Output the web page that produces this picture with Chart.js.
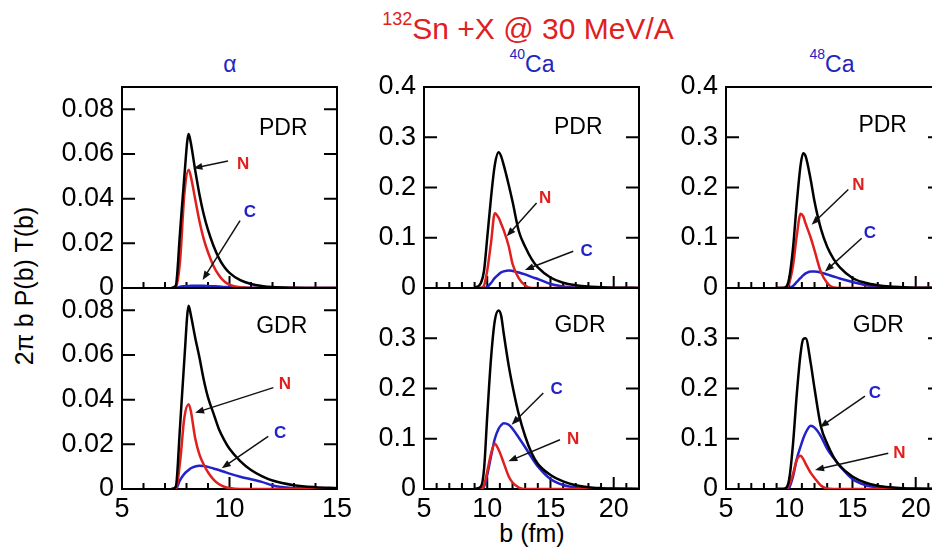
<!DOCTYPE html>
<html>
<head>
<meta charset="utf-8">
<title>132Sn + X @ 30 MeV/A</title>
<script src="https://cdn.jsdelivr.net/npm/chart.js@4/dist/chart.umd.min.js"></script>
<style>
  html, body { margin: 0; padding: 0; background: #fff; }
  body { position: relative; width: 932px; height: 558px; overflow: hidden;
         font-family: "Liberation Sans", Arial, Helvetica, sans-serif; }
  canvas { position: absolute; left: 0; top: 0; }
  .txt { position: absolute; line-height: 1; white-space: nowrap; transform: translateX(-50%); }
  .txt sup { position: relative; vertical-align: baseline; }
  .red { color: #e0201f; }
  .blue { color: #2424c0; }
  .ytitle { position: absolute; line-height: 1; white-space: nowrap; color: #000;
            transform: translate(-50%, -50%) rotate(-90deg); }
</style>
</head>
<body>

<div class="txt red" style="left:528px; top:14px; font-size:30px"><sup style="font-size:18px; top:-14px">132</sup>Sn +X @ 30 MeV/A</div>
<div class="txt blue" style="left:230px; top:53px; font-size:23px">α</div>
<div class="txt blue" style="left:532px; top:53px; font-size:23px"><sup style="font-size:14px; top:-13px">40</sup>Ca</div>
<div class="txt blue" style="left:832px; top:53px; font-size:23px"><sup style="font-size:14px; top:-13px">48</sup>Ca</div>
<div class="txt" style="left:532px; top:521px; font-size:25px">b (fm)</div>
<div class="ytitle" style="left:24px; top:286px; font-size:25px">2π b P(b) T(b)</div>

<script>
// impact parameter grids (fm)
const bAlpha = [7.3, 7.5, 7.7, 7.9, 8.1, 8.2, 8.4, 8.6, 8.8, 9.0, 9.25, 9.5, 9.75, 10, 10.5, 11, 11.5, 12, 13, 14, 15];
const bCa = [9, 9.5, 9.75, 10, 10.3, 10.6, 10.9, 11.1, 11.3, 11.7, 12, 12.5, 13, 13.5, 14, 15, 16, 17, 18, 19, 20, 22];

// alpha target
const alphaPdrTotal = [0, 0.001, 0.025, 0.05, 0.069, 0.065, 0.053, 0.042, 0.033, 0.026, 0.019, 0.0135, 0.0095, 0.0068, 0.0035, 0.0018, 0.0009, 0.0004, 0.0001, 0, 0];
const alphaPdrN = [0, 0, 0.012, 0.042, 0.053, 0.05, 0.04, 0.03, 0.022, 0.016, 0.01, 0.0058, 0.003, 0.0015, 0.0003, 0, 0, 0, 0, 0, 0];
const alphaPdrC = [0, 0, 0.0006, 0.0008, 0.0009, 0.001, 0.001, 0.001, 0.001, 0.0009, 0.0008, 0.0007, 0.0005, 0.0004, 0.0002, 0.0001, 0, 0, 0, 0, 0];
const alphaGdrTotal = [0, 0.001, 0.028, 0.058, 0.082, 0.078, 0.068, 0.059, 0.049, 0.041, 0.034, 0.027, 0.022, 0.018, 0.0125, 0.0085, 0.0058, 0.0038, 0.0017, 0.0008, 0.0004];
const alphaGdrN = [0, 0, 0.012, 0.032, 0.038, 0.035, 0.023, 0.0155, 0.011, 0.0075, 0.0043, 0.0022, 0.001, 0.0004, 0, 0, 0, 0, 0, 0, 0];
const alphaGdrC = [0, 0, 0.004, 0.0068, 0.0085, 0.0093, 0.0101, 0.0104, 0.0103, 0.0099, 0.0092, 0.0085, 0.0077, 0.0069, 0.0055, 0.0044, 0.0032, 0.0016, 0.0004, 0.0001, 0];

// 40Ca target
const ca40PdrTotal = [0, 0.01, 0.035, 0.1, 0.18, 0.245, 0.27, 0.262, 0.245, 0.205, 0.172, 0.113, 0.082, 0.058, 0.041, 0.021, 0.0105, 0.0055, 0.0028, 0.0014, 0.0007, 0.0002];
const ca40PdrN = [0, 0, 0.005, 0.035, 0.09, 0.149, 0.14, 0.128, 0.115, 0.083, 0.048, 0.019, 0.005, 0, 0, 0, 0, 0, 0, 0, 0, 0];
const ca40PdrC = [0, 0, 0, 0.002, 0.01, 0.02, 0.027, 0.031, 0.033, 0.035, 0.034, 0.031, 0.027, 0.022, 0.018, 0.008, 0.003, 0.001, 0, 0, 0, 0];
const ca40GdrTotal = [0, 0.005, 0.04, 0.145, 0.26, 0.335, 0.355, 0.345, 0.31, 0.245, 0.205, 0.148, 0.105, 0.072, 0.05, 0.028, 0.015, 0.0075, 0.0035, 0.0017, 0.0008, 0.0002];
const ca40GdrN = [0, 0, 0.008, 0.035, 0.07, 0.09, 0.078, 0.066, 0.052, 0.025, 0.013, 0.003, 0, 0, 0, 0, 0, 0, 0, 0, 0, 0];
const ca40GdrC = [0, 0, 0.005, 0.028, 0.065, 0.1, 0.12, 0.127, 0.131, 0.128, 0.12, 0.102, 0.083, 0.063, 0.045, 0.02, 0.008, 0.003, 0.001, 0, 0, 0];

// 48Ca target
const ca48PdrTotal = [0, 0, 0.002, 0.02, 0.08, 0.17, 0.245, 0.268, 0.262, 0.215, 0.172, 0.118, 0.082, 0.058, 0.041, 0.02, 0.0105, 0.0055, 0.0028, 0.0014, 0.0007, 0.0002];
const ca48PdrN = [0, 0, 0, 0.01, 0.045, 0.105, 0.148, 0.143, 0.128, 0.1, 0.075, 0.032, 0.01, 0.001, 0, 0, 0, 0, 0, 0, 0, 0];
const ca48PdrC = [0, 0, 0, 0, 0.004, 0.012, 0.02, 0.025, 0.029, 0.033, 0.033, 0.031, 0.027, 0.023, 0.019, 0.012, 0.006, 0.002, 0.0005, 0, 0, 0];
const ca48GdrTotal = [0, 0, 0.002, 0.02, 0.09, 0.19, 0.27, 0.298, 0.3, 0.25, 0.2, 0.125, 0.09, 0.064, 0.046, 0.025, 0.013, 0.0065, 0.0033, 0.0016, 0.0008, 0.0002];
const ca48GdrN = [0, 0, 0, 0.008, 0.03, 0.058, 0.066, 0.06, 0.05, 0.032, 0.022, 0.007, 0.001, 0, 0, 0, 0, 0, 0, 0, 0, 0];
const ca48GdrC = [0, 0, 0, 0.003, 0.025, 0.06, 0.085, 0.1, 0.112, 0.126, 0.122, 0.105, 0.08, 0.062, 0.046, 0.02, 0.008, 0.003, 0.001, 0, 0, 0];

const PAGE_W = 980, PAGE_H = 558;
const Y_AXIS_W = 90, X_AXIS_H = 50;
const FONT = "'Liberation Sans', Arial, Helvetica, sans-serif";
const RED = '#e0201f', BLUE = '#2222c8', BLACK = '#000';

// plot rectangles of the 3x2 grid
const COLS = [{ left: 122, right: 337 }, { left: 424, right: 639 }, { left: 726, right: 941 }];
const ROWS = [{ top: 87, bottom: 288 }, { top: 288, bottom: 489 }];

const panels = [
  { col: 0, row: 0, b: bAlpha, total: alphaPdrTotal, n: alphaPdrN, c: alphaPdrC,
    xMax: 15, yMax: 0.09, yStep: 0.02, digits: 2, tag: 'PDR', tagAt: [12.5, 0.0715],
    notes: [
      { text: 'N', color: RED, at: [10.63, 0.0555], from: [9.93, 0.0569], to: [8.32, 0.0536] },
      { text: 'C', color: BLUE, at: [10.95, 0.0338], from: [10.49, 0.0302], to: [8.75, 0.0036] }
    ] },
  { col: 0, row: 1, b: bAlpha, total: alphaGdrTotal, n: alphaGdrN, c: alphaGdrC,
    xMax: 15, yMax: 0.09, yStep: 0.02, digits: 2, tag: 'GDR', tagAt: [12.43, 0.0725],
    notes: [
      { text: 'N', color: RED, at: [12.58, 0.0469], from: [12.04, 0.0454], to: [8.4, 0.0341] },
      { text: 'C', color: BLUE, at: [12.35, 0.0251], from: [11.8, 0.0236], to: [9.64, 0.0093] }
    ] },
  { col: 1, row: 0, b: bCa, total: ca40PdrTotal, n: ca40PdrN, c: ca40PdrC,
    xMax: 22, yMax: 0.4, yStep: 0.1, digits: 1, tag: 'PDR', tagAt: [17.2, 0.319],
    notes: [
      { text: 'N', color: RED, at: [14.57, 0.179], from: [13.9, 0.169], to: [11.54, 0.103] },
      { text: 'C', color: BLUE, at: [17.86, 0.073], from: [16.8, 0.073], to: [12.98, 0.036] }
    ] },
  { col: 1, row: 1, b: bCa, total: ca40GdrTotal, n: ca40GdrN, c: ca40GdrC,
    xMax: 22, yMax: 0.4, yStep: 0.1, digits: 1, tag: 'GDR', tagAt: [17.33, 0.325],
    notes: [
      { text: 'C', color: BLUE, at: [15.49, 0.198], from: [14.43, 0.191], to: [11.93, 0.128] },
      { text: 'N', color: RED, at: [16.8, 0.098], from: [15.75, 0.098], to: [11.67, 0.055] }
    ] },
  { col: 2, row: 0, b: bCa, total: ca48PdrTotal, n: ca48PdrN, c: ca48PdrC,
    xMax: 22, yMax: 0.4, yStep: 0.1, digits: 1, tag: 'PDR', tagAt: [17.39, 0.323],
    notes: [
      { text: 'N', color: RED, at: [15.46, 0.204], from: [14.67, 0.196], to: [11.77, 0.126] },
      { text: 'C', color: BLUE, at: [16.38, 0.108], from: [15.73, 0.099], to: [12.83, 0.033] }
    ] },
  { col: 2, row: 1, b: bCa, total: ca48GdrTotal, n: ca48GdrN, c: ca48GdrC,
    xMax: 22, yMax: 0.4, yStep: 0.1, digits: 1, tag: 'GDR', tagAt: [17.04, 0.325],
    notes: [
      { text: 'C', color: BLUE, at: [16.78, 0.19], from: [15.99, 0.185], to: [12.43, 0.123] },
      { text: 'N', color: RED, at: [18.7, 0.071], from: [17.83, 0.071], to: [12.04, 0.038] }
    ] }
];

function drawArrow(ctx, x0, y0, x1, y1) {
  const ang = Math.atan2(y1 - y0, x1 - x0);
  const len = 9, half = 3.5;
  ctx.beginPath();
  ctx.moveTo(x0, y0);
  ctx.lineTo(x1 - Math.cos(ang) * len * 0.8, y1 - Math.sin(ang) * len * 0.8);
  ctx.stroke();
  ctx.beginPath();
  ctx.moveTo(x1, y1);
  ctx.lineTo(x1 - Math.cos(ang) * len - Math.sin(ang) * half, y1 - Math.sin(ang) * len + Math.cos(ang) * half);
  ctx.lineTo(x1 - Math.cos(ang) * len + Math.sin(ang) * half, y1 - Math.sin(ang) * len - Math.cos(ang) * half);
  ctx.closePath();
  ctx.fill();
}

// box around the plot with inward tick marks (1 fm minor, 5 fm major)
function framePath(ctx, chart, p) {
  const a = chart.chartArea;
  const xs = chart.scales.x, ys = chart.scales.y;
  ctx.beginPath();
  ctx.rect(a.left, a.top, a.right - a.left, a.bottom - a.top);
  for (let v = 5; v <= p.xMax; v++) {
    const px = xs.getPixelForValue(v);
    const len = v % 5 === 0 ? 12 : 6;
    ctx.moveTo(px, a.bottom);
    ctx.lineTo(px, a.bottom - len);
  }
  for (let k = 0; k * p.yStep <= p.yMax + 1e-9; k++) {
    const py = ys.getPixelForValue(k * p.yStep);
    ctx.moveTo(a.left, py);
    ctx.lineTo(a.left + 13, py);
    ctx.moveTo(a.right, py);
    ctx.lineTo(a.right - 13, py);
  }
}

function makeOverlay(p) {
  return {
    id: 'panelOverlay',
    beforeDatasetsDraw(chart) {
      const ctx = chart.ctx;
      ctx.save();
      ctx.strokeStyle = BLACK;
      ctx.lineWidth = 2;
      framePath(ctx, chart, p);
      ctx.stroke();
      ctx.restore();
    },
    afterDraw(chart) {
      const ctx = chart.ctx;
      const xs = chart.scales.x, ys = chart.scales.y;
      ctx.save();
      ctx.textAlign = 'center';
      ctx.textBaseline = 'middle';
      ctx.fillStyle = BLACK;
      ctx.font = '23px ' + FONT;
      ctx.fillText(p.tag, xs.getPixelForValue(p.tagAt[0]), ys.getPixelForValue(p.tagAt[1]));

      ctx.strokeStyle = '#111';
      ctx.lineWidth = 1.5;
      p.notes.forEach(nt => {
        ctx.fillStyle = '#111';
        drawArrow(ctx,
          xs.getPixelForValue(nt.from[0]), ys.getPixelForValue(nt.from[1]),
          xs.getPixelForValue(nt.to[0]), ys.getPixelForValue(nt.to[1]));
        ctx.fillStyle = nt.color;
        ctx.font = 'bold 17px ' + FONT;
        ctx.fillText(nt.text, xs.getPixelForValue(nt.at[0]), ys.getPixelForValue(nt.at[1]));
      });
      ctx.restore();
    }
  };
}

function series(b, vals) {
  return b.map((v, i) => ({ x: v, y: vals[i] }));
}

function makePanel(p) {
  const col = COLS[p.col], row = ROWS[p.row];
  const canvas = document.createElement('canvas');
  canvas.width = PAGE_W;
  canvas.height = PAGE_H;
  document.body.appendChild(canvas);

  const yLabel = v => {
    if (p.row === 1 && Math.abs(v - p.yMax) < 1e-9) return '';
    return v === 0 ? '0' : v.toFixed(p.digits);
  };

  new Chart(canvas, {
    type: 'line',
    data: {
      datasets: [
        { data: series(p.b, p.total), borderColor: BLACK },
        { data: series(p.b, p.n), borderColor: RED },
        { data: series(p.b, p.c), borderColor: BLUE }
      ]
    },
    options: {
      responsive: false,
      animation: false,
      events: [],
      layout: {
        padding: {
          left: col.left - Y_AXIS_W,
          top: row.top,
          right: PAGE_W - col.right,
          bottom: PAGE_H - row.bottom - X_AXIS_H
        }
      },
      elements: {
        point: { radius: 0 },
        line: { borderWidth: 2.5, cubicInterpolationMode: 'monotone', fill: false }
      },
      plugins: { legend: { display: false }, tooltip: { enabled: false } },
      scales: {
        x: {
          type: 'linear',
          min: 5,
          max: p.xMax,
          afterFit: s => { s.height = X_AXIS_H; },
          grid: { display: false, drawTicks: false },
          border: { display: false },
          ticks: {
            display: p.row === 1,
            stepSize: 1,
            autoSkip: false,
            maxRotation: 0,
            minRotation: 0,
            padding: 4,
            color: BLACK,
            font: { family: FONT, size: 27 },
            callback: v => (Math.round(v) % 5 === 0 ? String(Math.round(v)) : '')
          }
        },
        y: {
          type: 'linear',
          min: 0,
          max: p.yMax,
          afterFit: s => { s.width = Y_AXIS_W; },
          grid: { display: false, drawTicks: false },
          border: { display: false },
          ticks: {
            stepSize: p.yStep,
            includeBounds: false,
            padding: 8,
            color: BLACK,
            font: { family: FONT, size: 27 },
            callback: yLabel
          }
        }
      }
    },
    plugins: [makeOverlay(p)]
  });
}

panels.forEach(makePanel);
</script>
</body>
</html>
